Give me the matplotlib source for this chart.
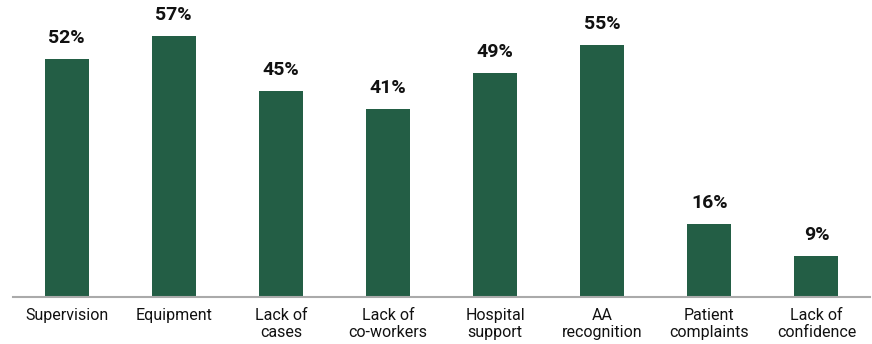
import matplotlib.pyplot as plt

categories = ["Supervision", "Equipment", "Lack of\ncases", "Lack of\nco-workers",
              "Hospital\nsupport", "AA\nrecognition", "Patient\ncomplaints", "Lack of\nconfidence"]
values = [52, 57, 45, 41, 49, 55, 16, 9]
labels = ["52%", "57%", "45%", "41%", "49%", "55%", "16%", "9%"]

plt.rcParams['font.family'] = ['Roboto', 'DejaVu Sans']

fig = plt.figure(figsize=(8.72, 3.44), dpi=100)
ax = fig.add_axes([13 / 872, 47 / 344, 857 / 872, 297 / 344])

x = range(len(values))
bars = ax.bar(x, values, width=0.41, color="#235E45")
for b, lab in zip(bars, labels):
    ax.text(b.get_x() + b.get_width() / 2, b.get_height() + 2.6, lab,
            ha="center", va="bottom", fontsize=14, fontweight="bold", color="#111111")

ax.set_xlim(-0.5, 7.5)
ax.set_ylim(0, 64.9)
ax.set_xticks(list(x))
ax.set_xticklabels(categories, fontsize=11.5, color="#111111", linespacing=1.15)
ax.tick_params(axis="x", length=0, pad=8)
ax.set_yticks([])
for s in ["top", "right", "left"]:
    ax.spines[s].set_visible(False)
ax.spines["bottom"].set_color("#aaaaaa")
ax.spines["bottom"].set_linewidth(1.5)

fig.savefig("out.png", dpi=100)
